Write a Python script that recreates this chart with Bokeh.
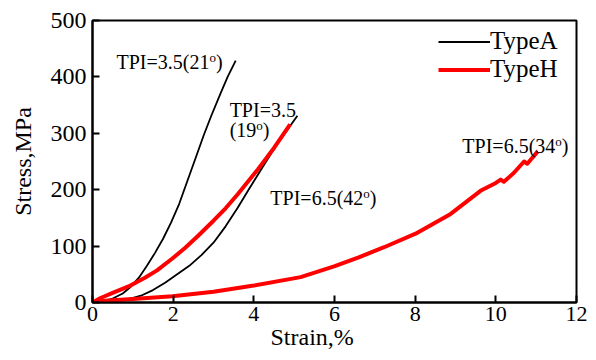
from bokeh.plotting import figure
from bokeh.models import Legend, LegendItem, FixedTicker, Range1d, ColumnDataSource, Title
from bokeh.core.properties import value
from bokeh.embed import file_html
from bokeh.resources import INLINE

# ---- data ----
# TypeA, TPI=3.5 (21 deg)
a1_strain = [0, 0.25, 0.5, 0.75, 0.95, 1.15, 1.35, 1.55, 1.75, 1.95, 2.15, 2.35, 2.55,
             2.76, 2.95, 3.17, 3.35, 3.55]
a1_stress = [0, 2, 7, 16, 28, 44, 65, 88, 113, 142, 175, 215, 255,
             297, 332, 370, 400, 429]
# TypeA, lower curve
a2_strain = [0, 0.5, 0.9, 1.2, 1.5, 1.8, 2.1, 2.4, 2.7, 3.0, 3.3, 3.6, 3.87, 4.2, 4.5,
             4.74, 5.08]
a2_stress = [0, 2, 6, 12, 22, 35, 50, 65, 84, 106, 135, 168, 200, 238, 272,
             297, 331]
# TypeH, TPI=3.5 (19 deg)
h1_strain = [0, 0.2, 0.5, 0.94, 1.3, 1.6, 1.98, 2.3, 2.6, 3.0, 3.3, 3.6, 4.1, 4.5, 4.9]
h1_stress = [0, 8, 17, 30, 44, 57, 78, 97, 117, 145, 167, 192, 236, 274, 316]
# TypeH, TPI=6.5 (34 deg)
h2_strain = [0, 0.3, 1.0, 1.98, 3.0, 4.0, 5.16, 5.99, 6.6, 7.23, 8.01, 8.88, 9.62,
             10.0, 10.12, 10.2, 10.45, 10.7, 10.78, 11.04]
h2_stress = [0, 3, 6, 11, 19, 30, 45, 64, 80, 98, 122, 157, 198,
             212, 218, 214, 230, 250, 246, 268]

x_ticks = [0, 2, 4, 6, 8, 10, 12]
y_ticks = [0, 100, 200, 300, 400, 500]

series_names = ["TypeA", "TypeH"]
x_title = "Strain,%"
y_title = "Stress,MPa"

# annotation texts: main part, superscript, closing part, anchor (strain, stress)
label_main = ["TPI=3.5(21", "TPI=3.5", "(19", "TPI=6.5(42", "TPI=6.5(34"]
label_sup = ["o", "", "o", "o", "o"]
label_tail = [")", "", ")", ")", ")"]
label_x = [0.595, 3.40, 3.40, 4.41, 9.17]
label_y = [427, 342, 306, 186, 278]

FONT = "'Liberation Serif'"
MAIN_PX = 20
SUP_PX = 13

# Times/Liberation Serif advance widths (em)
W = {'T': .611, 'P': .556, 'I': .333, '=': .564, '.': .25, '(': .333, ')': .333, 'o': .5}
for d in "0123456789":
    W[d] = .5


def tw(s, px):
    return sum(W.get(c, .5) for c in s) * px


p = figure(width=596, height=360, output_backend="svg", toolbar_location=None,
           x_range=Range1d(0, 12), y_range=Range1d(0, 500),
           min_border_left=92, min_border_right=20, min_border_top=20, min_border_bottom=58,
           background_fill_color="white", border_fill_color="white")
p.xgrid.visible = False
p.ygrid.visible = False
p.outline_line_color = "black"
p.outline_line_width = 2
p.outline_line_alpha = 1

for ax, ticks, fs in ((p.xaxis, x_ticks, "22px"), (p.yaxis, y_ticks, "24px")):
    ax.ticker = FixedTicker(ticks=ticks)
    ax.major_tick_in = 7
    ax.major_tick_out = 0
    ax.minor_tick_in = 0
    ax.minor_tick_out = 0
    ax.axis_line_width = 2
    ax.major_tick_line_width = 2
    ax.axis_line_color = "black"
    ax.major_tick_line_color = "black"
    ax.major_label_text_font = FONT
    ax.major_label_text_font_size = fs
    ax.major_label_text_color = "black"

p.xaxis.major_label_standoff = 4
p.yaxis.major_label_standoff = 6

p.yaxis.axis_label = y_title
p.yaxis.axis_label_text_font = FONT
p.yaxis.axis_label_text_font_size = "24px"
p.yaxis.axis_label_text_font_style = "normal"
p.yaxis.axis_label_text_color = "black"
p.yaxis.axis_label_standoff = 12

# x title sits a little left of centre in the reference
p.add_layout(Title(text=x_title, align="left", offset=178, standoff=0,
                   vertical_align="top", text_font=FONT, text_font_size="24px",
                   text_font_style="normal", text_color="black"), "below")

ra1 = p.line(a1_strain, a1_stress, line_color="black", line_width=1.8, line_join="round")
p.line(a2_strain, a2_stress, line_color="black", line_width=1.8, line_join="round")
rh1 = p.line(h1_strain, h1_stress, line_color="#ff0000", line_width=4, line_join="round")
p.line(h2_strain, h2_stress, line_color="#ff0000", line_width=4, line_join="round")

# annotations with raised "o"
main_src = ColumnDataSource(dict(x=label_x, y=label_y, text=label_main))
p.text(x="x", y="y", text="text", source=main_src, text_font=value(FONT),
       text_font_size=f"{MAIN_PX}px", text_baseline="alphabetic", text_align="left",
       text_color="black")
sup_src = ColumnDataSource(dict(x=label_x, y=label_y, text=label_sup,
                                xo=[tw(m, MAIN_PX) for m in label_main]))
p.text(x="x", y="y", text="text", source=sup_src, x_offset="xo", y_offset=-4.5,
       text_font=value(FONT), text_font_size=f"{SUP_PX}px",
       text_baseline="alphabetic", text_align="left", text_color="black")
tail_src = ColumnDataSource(dict(x=label_x, y=label_y, text=label_tail,
                                 xo=[tw(m, MAIN_PX) + tw(s, SUP_PX) for m, s in zip(label_main, label_sup)]))
p.text(x="x", y="y", text="text", source=tail_src, x_offset="xo",
       text_font=value(FONT), text_font_size=f"{MAIN_PX}px",
       text_baseline="alphabetic", text_align="left", text_color="black")

legend = Legend(items=[LegendItem(label=series_names[0], renderers=[ra1]),
                       LegendItem(label=series_names[1], renderers=[rh1])],
                location=(346, 219), padding=0, margin=0, spacing=0,
                glyph_width=52, glyph_height=25, label_height=25, label_standoff=0,
                label_text_font=FONT, label_text_font_size="25px",
                label_text_color="black",
                border_line_alpha=0, background_fill_alpha=0)
p.add_layout(legend)

open("out.html", "w").write(file_html(p, INLINE))
